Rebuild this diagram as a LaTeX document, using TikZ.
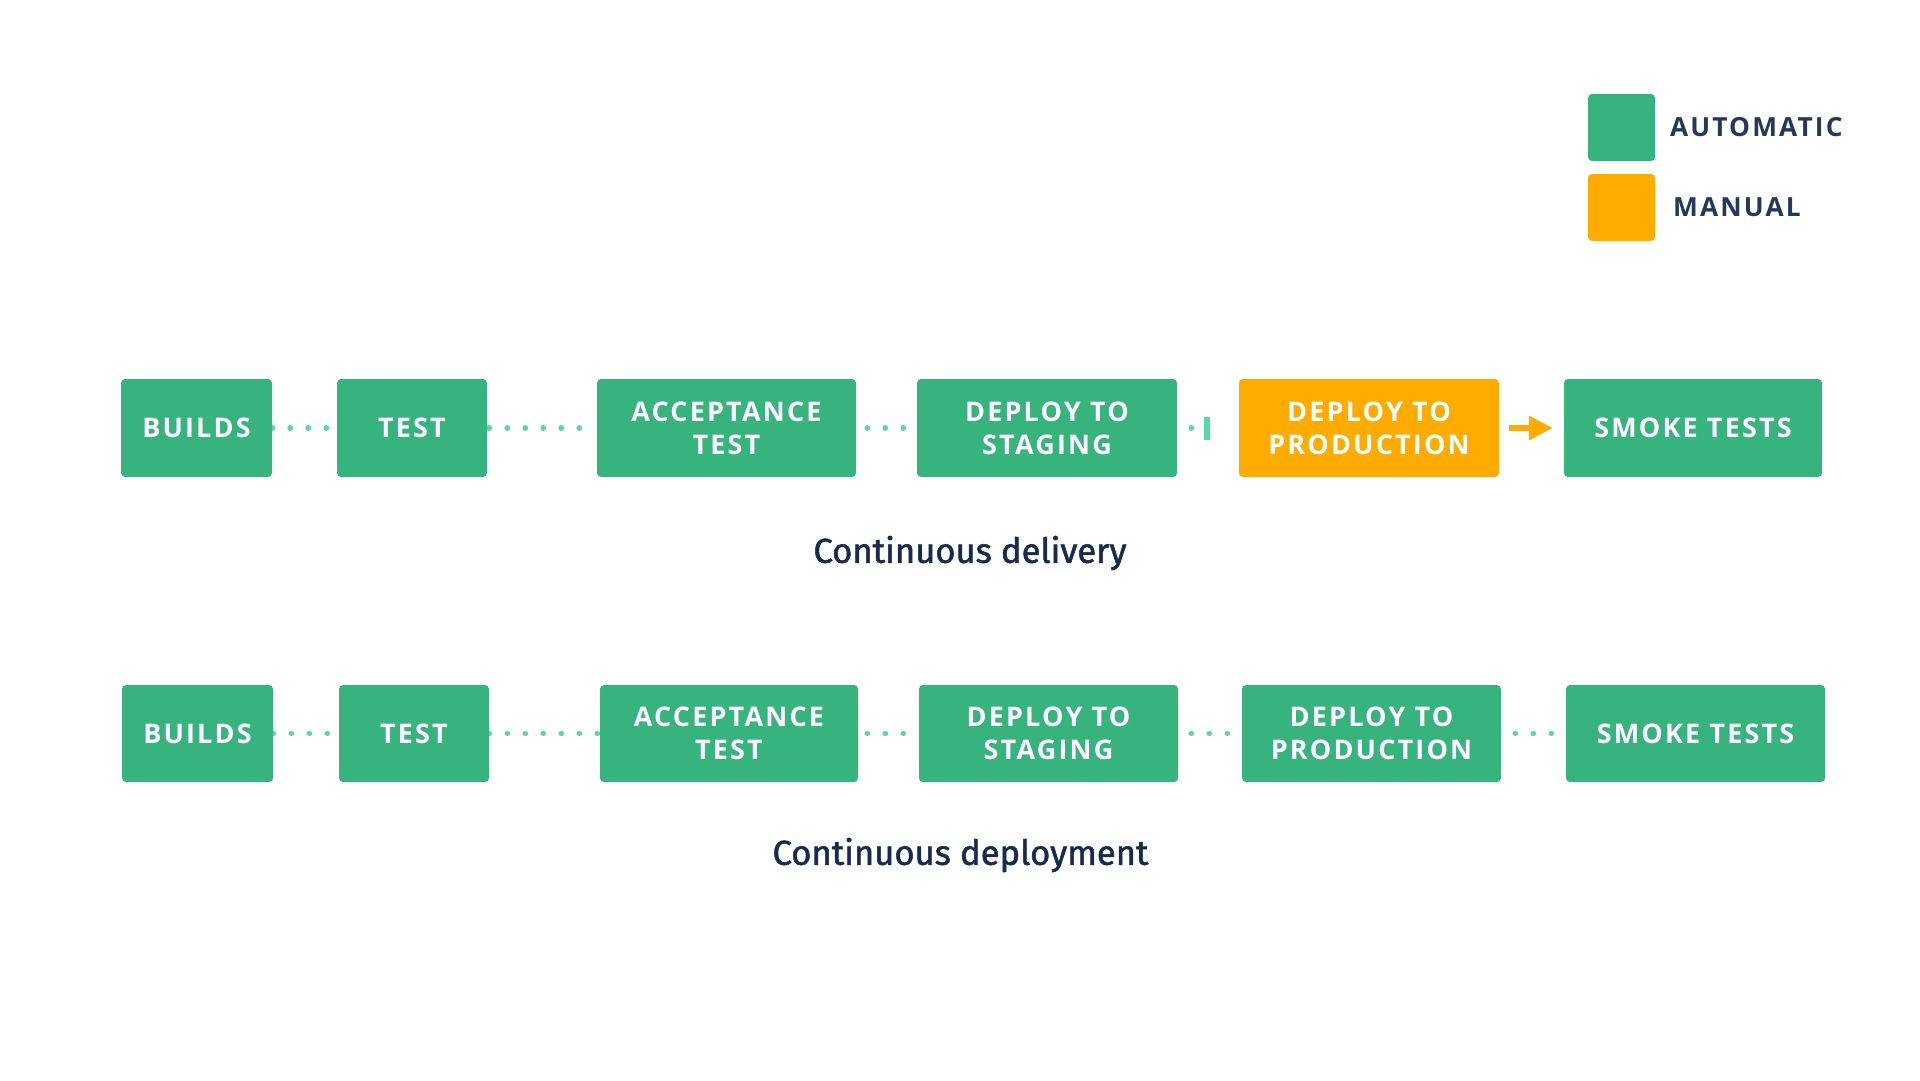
\documentclass[tikz,border=0pt]{standalone}
\usepackage{fontspec}
\usetikzlibrary{arrows.meta}
\newfontfamily\boxfont{Open Sans}[LetterSpace=8]
\newfontfamily\titlefont{Fira Sans}[FakeBold=1.5]
\definecolor{auto}{HTML}{36B37E}
\definecolor{manual}{HTML}{FFAB00}
\definecolor{dotc}{HTML}{57D9A3}
\definecolor{navy}{HTML}{172B4D}
\definecolor{legtext}{HTML}{253858}
\pgfdeclarelayer{back}
\pgfdeclarelayer{bg}
\pgfsetlayers{back,bg,main}
\tikzset{
  stage/.style={fill=auto, rounded corners=4pt, inner sep=0pt, align=center,
    text=white, font=\boxfont\bfseries\fontsize{27}{33}\selectfont},
  manualstage/.style={stage, fill=manual},
  dots/.style={draw=dotc, line width=5.5pt, line cap=round, dash pattern=on 0.2pt off 17.8pt},
  gatebar/.style={draw=dotc, line width=6pt},
  arrowc/.style={draw=manual, line width=6pt, -{Triangle[length=24pt,width=23pt]}},
  legbox/.style={rounded corners=4pt, minimum width=67pt, minimum height=67pt, inner sep=0pt},
  legtxt/.style={anchor=west, inner sep=0pt, text=legtext, font=\boxfont\bfseries\fontsize{26.3}{33}\selectfont},
  title/.style={text=navy, inner sep=0pt, font=\titlefont\fontsize{34.6}{40}\selectfont}
}
\begin{document}
\begin{tikzpicture}[x=1pt,y=-1pt]
\begin{pgfonlayer}{back}
  \fill[white] (0,0) rectangle (1920,1080);
\end{pgfonlayer}
\useasboundingbox (0,0) rectangle (1920,1080);

% legend
\node[legbox, fill=auto] (lauto) at (1621.5,127.5) {};
\node[legbox, fill=manual] (lman) at (1621.5,207.5) {};
\node[legtxt] (tauto) at (1670,127) {AUTOMATIC};
\node[legtxt] (tman) at (1673,207) {MANUAL};

% continuous delivery row
\node[stage, minimum width=151pt, minimum height=98pt] (b1) at (196.5,428) {BUILDS};
\node[stage, minimum width=150pt, minimum height=98pt] (t1) at (412,428) {TEST};
\node[stage, minimum width=259pt, minimum height=98pt] (a1) at (726.5,428) {ACCEPTANCE\\TEST};
\node[stage, minimum width=260pt, minimum height=98pt] (s1) at (1047,428) {DEPLOY TO\\STAGING};
\node[manualstage, minimum width=260pt, minimum height=98pt] (p1) at (1369,428) {DEPLOY TO\\PRODUCTION};
\node[stage, minimum width=258pt, minimum height=98pt] (k1) at (1693,428) {SMOKE TESTS};
\coordinate (gate) at (1207,428);

\node[title] (cdel) at (970,553) {Continuous delivery};

% continuous deployment row
\node[stage, minimum width=151pt, minimum height=97pt] (b2) at (197.5,733.5) {BUILDS};
\node[stage, minimum width=150pt, minimum height=97pt] (t2) at (414,733.5) {TEST};
\node[stage, minimum width=258pt, minimum height=97pt] (a2) at (729,733.5) {ACCEPTANCE\\TEST};
\node[stage, minimum width=259pt, minimum height=97pt] (s2) at (1048.5,733.5) {DEPLOY TO\\STAGING};
\node[stage, minimum width=259pt, minimum height=97pt] (p2) at (1371.5,733.5) {DEPLOY TO\\PRODUCTION};
\node[stage, minimum width=259pt, minimum height=97pt] (k2) at (1695.5,733.5) {SMOKE TESTS};

\node[title] (cdep) at (960.5,855) {Continuous deployment};

\begin{pgfonlayer}{bg}
  \draw[dots] (b1.east) -- (t1.west);
  \draw[dots, dash phase=16pt] (t1.east) -- (a1.west);
  \draw[dots, dash phase=7pt] (a1.east) -- (s1.west);
  \draw[dots, dash phase=4pt] (s1.east) -- (gate);
  \draw[dots] (b2.east) -- (t2.west);
  \draw[dots] (t2.east) -- (a2.west);
  \draw[dots, dash phase=9pt] (a2.east) -- (s2.west);
  \draw[dots, dash phase=5pt] (s2.east) -- (p2.west);
  \draw[dots, dash phase=4pt] (p2.east) -- (k2.west);
\end{pgfonlayer}
\draw[gatebar] ([yshift=-11.5pt]gate) -- ([yshift=11.5pt]gate);
\draw[arrowc] ([xshift=10pt]p1.east) -- ([xshift=-11pt]k1.west);
\end{tikzpicture}
\end{document}
